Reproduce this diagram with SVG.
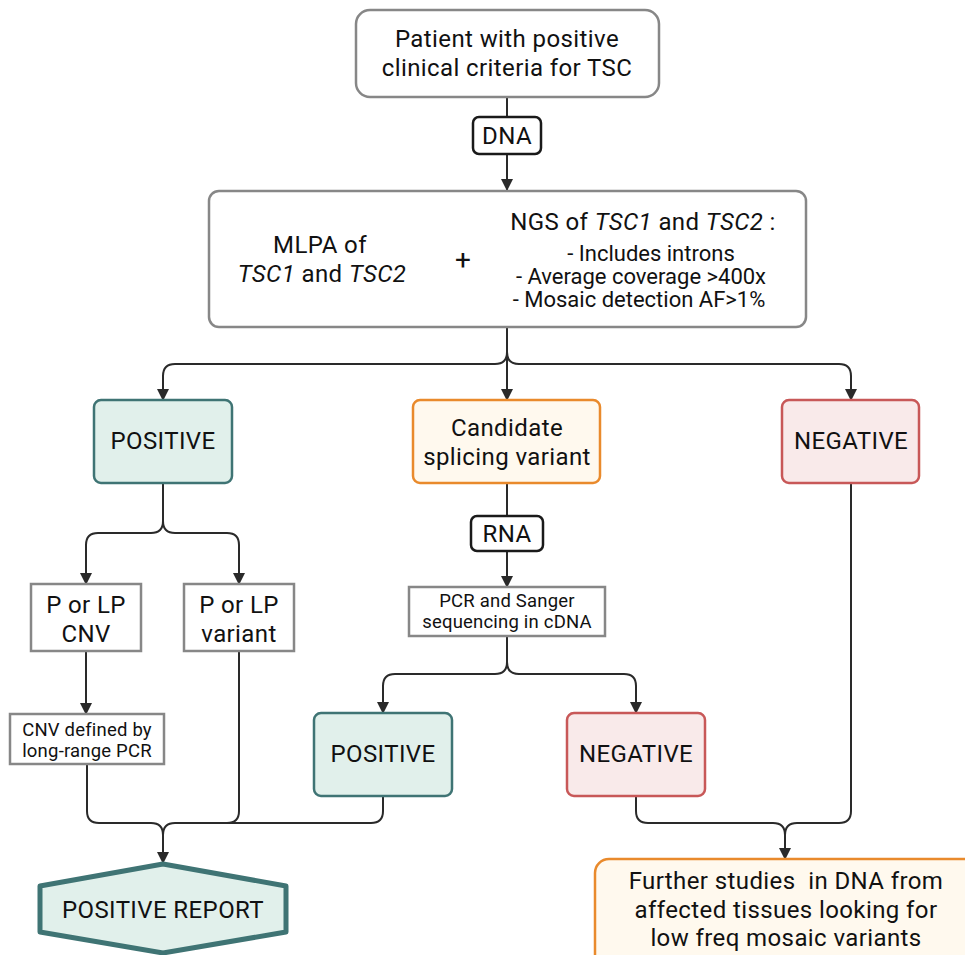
<svg xmlns="http://www.w3.org/2000/svg" width="965" height="955" viewBox="0 0 965 955">
<style>
text{font-family:Roboto,"Liberation Sans",sans-serif;fill:#111;text-anchor:middle}
.t22{font-size:24px;letter-spacing:0.4px}
.t21{font-size:22px}
.t15{font-size:18.5px;letter-spacing:0.2px}
.gray{fill:#fff;stroke:#878787;stroke-width:2.5}
.tag{fill:#fff;stroke:#1a1a1a;stroke-width:2.5}
.pos{fill:#e1f0eb;stroke:#3f7474;stroke-width:2.5}
.neg{fill:#f9eaea;stroke:#c85858;stroke-width:2.5}
.cand{fill:#fff9ee;stroke:#e98a2c;stroke-width:2.5}
.c{fill:none;stroke:#2a2a2a;stroke-width:2}
</style>
<defs>
<marker id="ah" markerUnits="userSpaceOnUse" markerWidth="12" markerHeight="12" refX="11" refY="6" orient="auto">
<path d="M0,0 L12,6 L0,12 z" fill="#2a2a2a"/>
</marker>
</defs>
<g id="connectors">
<path class="c" d="M507,97 V117"/>
<path class="c" d="M507,154 V190" marker-end="url(#ah)"/>
<path class="c" d="M507,327 V400" marker-end="url(#ah)"/>
<path class="c" d="M507,352 Q507,364 495,364 H175 Q163,364 163,376 V400" marker-end="url(#ah)"/>
<path class="c" d="M507,352 Q507,364 519,364 H839 Q851,364 851,376 V400" marker-end="url(#ah)"/>
<path class="c" d="M163,483 V521 Q163,533 151,533 H98 Q86,533 86,545 V584" marker-end="url(#ah)"/>
<path class="c" d="M163,521 Q163,533 175,533 H227 Q239,533 239,545 V584" marker-end="url(#ah)"/>
<path class="c" d="M86,651 V714" marker-end="url(#ah)"/>
<path class="c" d="M507,483 V516"/>
<path class="c" d="M507,551 V587" marker-end="url(#ah)"/>
<path class="c" d="M507,636 V662 Q507,674 495,674 H395 Q383,674 383,686 V713" marker-end="url(#ah)"/>
<path class="c" d="M507,662 Q507,674 519,674 H624 Q636,674 636,686 V713" marker-end="url(#ah)"/>
<path class="c" d="M87,764 V811 Q87,823 99,823 H151 Q163,823 163,835 V863" marker-end="url(#ah)"/>
<path class="c" d="M383,796 V811 Q383,823 371,823 H175 Q163,823 163,835"/>
<path class="c" d="M239,651 V811 Q239,823 227,823"/>
<path class="c" d="M636,796 V811 Q636,823 648,823 H773 Q785,823 785,835 V859" marker-end="url(#ah)"/>
<path class="c" d="M851,483 V811 Q851,823 839,823 H797 Q785,823 785,835"/>
</g>
<g id="n-patient">
<rect class="gray" x="356" y="10" width="303" height="87" rx="14"/>
<text class="t22" x="507" y="47">Patient with positive</text>
<text class="t22" x="507" y="76">clinical criteria for TSC</text>
</g>
<g id="n-dna">
<rect class="tag" x="473" y="117" width="68" height="37" rx="6"/>
<text class="t22" x="507" y="144">DNA</text>
</g>
<g id="n-tests">
<rect class="gray" x="209" y="191" width="597" height="136" rx="10"/>
<text class="t22" x="320" y="253">MLPA of</text>
<text class="t22" x="322" y="282"><tspan font-style="italic">TSC1</tspan> and <tspan font-style="italic">TSC2</tspan></text>
<text x="463" y="269" style="font-size:28px">+</text>
<text class="t22" x="643" y="230">NGS of <tspan font-style="italic">TSC1</tspan> and <tspan font-style="italic">TSC2</tspan> :</text>
<text class="t21" x="651" y="261">- Includes introns</text>
<text class="t21" x="641" y="284">- Average coverage &gt;400x</text>
<text class="t21" x="639" y="307">- Mosaic detection AF&gt;1%</text>
</g>
<g id="n-positive1">
<rect class="pos" x="94" y="400" width="138" height="83" rx="7"/>
<text class="t22" x="163" y="449">POSITIVE</text>
</g>
<g id="n-candidate">
<rect class="cand" x="413" y="400" width="187" height="83" rx="7"/>
<text class="t22" x="507" y="436">Candidate</text>
<text class="t22" x="507" y="465">splicing variant</text>
</g>
<g id="n-negative1">
<rect class="neg" x="782" y="400" width="137" height="83" rx="7"/>
<text class="t22" x="851" y="449">NEGATIVE</text>
</g>
<g id="n-cnv">
<rect class="gray" x="31" y="584" width="110" height="67"/>
<text class="t22" x="86" y="613">P or LP</text>
<text class="t22" x="86" y="642">CNV</text>
</g>
<g id="n-variant">
<rect class="gray" x="184" y="584" width="110" height="67"/>
<text class="t22" x="239" y="613">P or LP</text>
<text class="t22" x="239" y="642">variant</text>
</g>
<g id="n-cnvdef">
<rect class="gray" x="10" y="714" width="154" height="50"/>
<text class="t15" x="87" y="736">CNV defined by</text>
<text class="t15" x="87" y="757">long-range PCR</text>
</g>
<g id="n-rna">
<rect class="tag" x="471" y="516" width="72" height="35" rx="6"/>
<text class="t22" x="507" y="542">RNA</text>
</g>
<g id="n-pcr">
<rect class="gray" x="409" y="587" width="196" height="49"/>
<text class="t15" x="507" y="607">PCR and Sanger</text>
<text class="t15" x="507" y="628">sequencing in cDNA</text>
</g>
<g id="n-positive2">
<rect class="pos" x="314" y="713" width="138" height="83" rx="7"/>
<text class="t22" x="383" y="762">POSITIVE</text>
</g>
<g id="n-negative2">
<rect class="neg" x="567" y="713" width="138" height="83" rx="7"/>
<text class="t22" x="636" y="762">NEGATIVE</text>
</g>
<g id="n-report">
<polygon points="163,864 40,886 40,932 163,953 286,932 286,886" fill="#e1f0eb" stroke="#3f7474" stroke-width="5" stroke-linejoin="round"/>
<text class="t22" x="163" y="918">POSITIVE REPORT</text>
</g>
<g id="n-further">
<rect class="cand" x="595" y="859" width="385" height="110" rx="14"/>
<text class="t22" x="786" y="889" xml:space="preserve">Further studies  in DNA from</text>
<text class="t22" x="786" y="918">affected tissues looking for</text>
<text class="t22" x="786" y="946">low freq mosaic variants</text>
</g>
</svg>
